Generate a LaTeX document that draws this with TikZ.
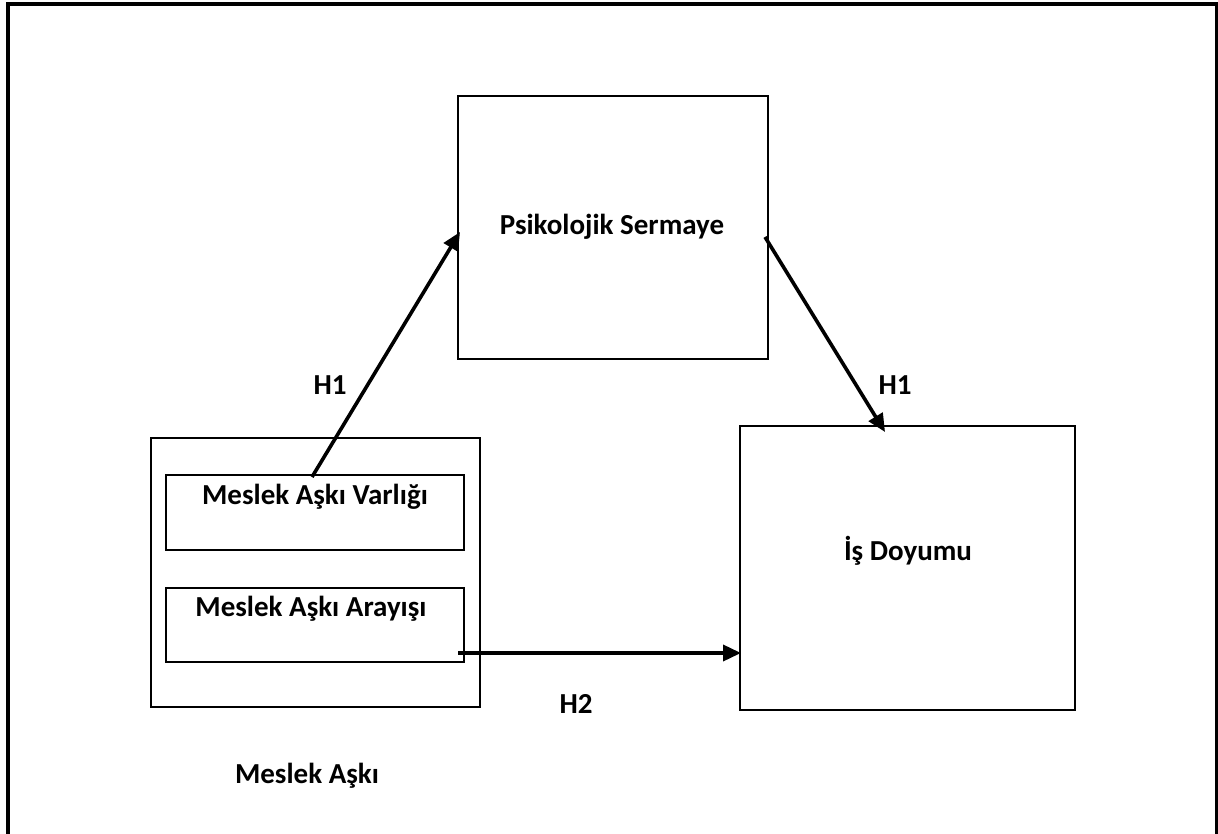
\documentclass[tikz,border=0pt]{standalone}
\usepackage{fontspec}
\setmainfont{Carlito}
\usetikzlibrary{arrows.meta}
\begin{document}
\begin{tikzpicture}[x=1pt,y=-1pt]
    \tikzstyle{every node}+=[inner sep=0pt]
    \tikzstyle{box}=[draw=black, line width=2.2pt]
    \tikzstyle{lbl}=[font=\bfseries\fontsize{29}{34}\selectfont]
    \tikzstyle{arr}=[black, line width=3.6pt, -{Triangle[length=18pt,width=16pt]}]
    \useasboundingbox (0,0) rectangle (1218,834);
    \draw [black, line width=3.2pt] (8,4) rectangle (1217,860);
    % boxes
    \node [box, minimum width=310pt, minimum height=263pt] (psy) at (613,227.5) {};
    \node [box, minimum width=335pt, minimum height=284pt] (doy) at (907.5,568) {};
    \node [box, minimum width=329pt, minimum height=269pt] (ask) at (315.5,572.5) {};
    \node [box, minimum width=298pt, minimum height=75pt] (var) at (315,512.5) {};
    \node [box, minimum width=298pt, minimum height=74pt] (ara) at (315,625) {};
    % texts
    \node [lbl] (tpsy) at (612,227) {Psikolojik Sermaye};
    \node [lbl] (tdoy) at (908,551) {İş Doyumu};
    \node [lbl] (tvar) at (315,497) {Meslek Aşkı Varlığı};
    \node [lbl] (tara) at (311,609) {Meslek Aşkı Arayışı};
    \node [lbl] (task) at (307,776) {Meslek Aşkı};
    \node [lbl] (h1a) at (330,385) {H1};
    \node [lbl] (h1b) at (895,385) {H1};
    \node [lbl] (h2) at (576,704) {H2};
    % arrows
    \coordinate (p1) at (312,477);
    \coordinate (p2) at (460,232);
    \coordinate (p3) at (765,237);
    \coordinate (p4) at (885,432);
    \coordinate (p5) at (458,653);
    \coordinate (p6) at (741,653);
    \draw [arr] (p1) -- (p2);
    \draw [arr] (p3) -- (p4);
    \draw [arr] (p5) -- (p6);
\end{tikzpicture}
\end{document}
